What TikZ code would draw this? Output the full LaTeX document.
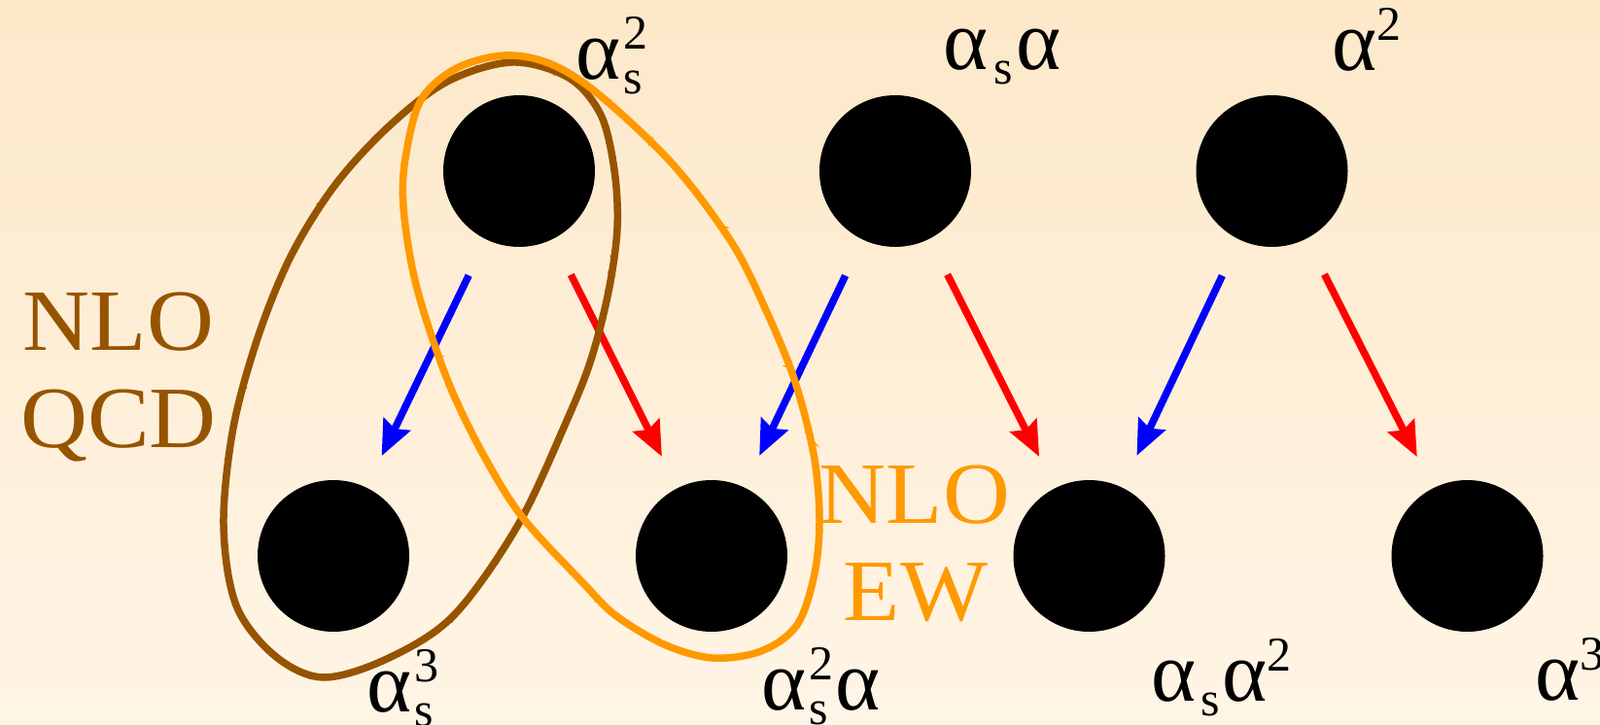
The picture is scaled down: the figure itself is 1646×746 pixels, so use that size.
\documentclass[tikz,border=0pt]{standalone}
\usepackage{fontspec}
\setmainfont{Liberation Serif}
\usetikzlibrary{arrows.meta,decorations.pathmorphing}
\definecolor{bgtop}{RGB}{253,232,201}
\definecolor{bgbot}{RGB}{255,245,230}
\definecolor{qcdbrown}{RGB}{150,84,0}
\definecolor{eworange}{RGB}{255,153,0}
\newcommand{\bigfnt}{\fontsize{88}{100}\selectfont}
\newcommand{\smfnt}{\fontsize{50}{50}\selectfont}
\newcommand{\sbsp}[2]{\makebox[0pt][l]{\kern3pt\raisebox{-15pt}{\smfnt #1}}\kern3pt\raisebox{31pt}{\smfnt #2}}
\newcommand{\sbonly}[1]{\raisebox{-15pt}{\smfnt #1}}
\newcommand{\sponly}[1]{\raisebox{31pt}{\smfnt #1}}
\begin{document}
\begin{tikzpicture}[x=1pt,y=-1pt,
  dot/.style={circle,fill=black,minimum size=156pt,inner sep=0pt},
  arr/.style={line width=7.5pt,-{Stealth[length=36pt,width=30pt,inset=5pt]},shorten <=41pt,shorten >=36pt},
  qcdarr/.style={arr,draw=blue,fill=blue},
  ewarr/.style={arr,draw=red,fill=red},
  lab/.style={anchor=base west,inner sep=0pt,font=\bigfnt},
  big/.style={anchor=base,inner sep=0pt,font=\fontsize{90}{100}\selectfont,xscale=1.06,transform shape},
  loop/.style={line width=7.5pt,line join=round},
  rough/.style={line width=2.5pt,decorate,decoration={random steps,segment length=3pt,amplitude=2.2pt}}]
\useasboundingbox (0,0) rectangle (1646,746);
\shade[top color=bgtop,bottom color=bgbot] (0,0) rectangle (1646,746);

% dots
\node[dot] (t1) at (534,176) {};
\node[dot] (t2) at (921,176) {};
\node[dot] (t3) at (1308.5,176) {};
\node[dot] (b1) at (343,572) {};
\node[dot] (b2) at (732,572) {};
\node[dot] (b3) at (1120.5,572) {};
\node[dot] (b4) at (1509.5,572) {};

% arrows
\draw[qcdarr] (t1) -- (b1);
\draw[ewarr]  (t1) -- (b2);
\draw[qcdarr] (t2) -- (b2);
\draw[ewarr]  (t2) -- (b3);
\draw[qcdarr] (t3) -- (b3);
\draw[ewarr]  (t3) -- (b4);

% labels
\node[lab] (l1) at (592,82) {α\sbsp{s}{2}};
\node[lab] (l2) at (970,72) {α\kern6pt\sbonly{s}\kern4pt α};
\node[lab] (l3) at (1370,73) {α\sponly{2}};
\node[lab] (l4) at (377,732) {α\sbsp{s}{3}};
\node[lab] (l5) at (783,730) {α\sbsp{s}{2}\kern2pt α};
\node[lab] (l6) at (1184,721) {α\kern5pt\sbonly{s}\kern3pt α\sponly{2}};
\node[lab] (l7) at (1579,720) {α\sponly{3}};

% loops
\def\brownloop{plot[smooth cycle,tension=0.55] coordinates {
  (527,64) (585,80) (618,118) (632,175) (635,235) (626,300) (608,370)
  (583,433) (533,540) (467,633) (400,677) (333,697) (283,675) (243,623)
  (230,540) (240,440) (266,345) (300,262) (345,190) (400,130) (460,84)}}
\def\orangeloop{plot[smooth cycle,tension=0.55] coordinates {
  (520,57) (567,66) (617,98) (693,170) (753,250) (787,317) (817,390)
  (837,467) (843,533) (838,590) (820,643) (783,670) (733,677) (683,663)
  (633,633) (600,600) (538,533) (500,473) (467,407) (443,343) (425,280)
  (415,213) (417,163) (433,103) (470,70)}}
\draw[loop,qcdbrown] \brownloop;
\draw[rough,qcdbrown] \brownloop;
\draw[loop,eworange] \orangeloop;
\draw[rough,eworange] \orangeloop;

% group names
\node[big,qcdbrown] (nq1) at (122,360) {NLO};
\node[big,qcdbrown] (nq2) at (122,460) {QCD};
\node[big,eworange] (ne1) at (941,538) {NLO};
\node[big,eworange] (ne2) at (942,638) {EW};
\end{tikzpicture}
\end{document}
